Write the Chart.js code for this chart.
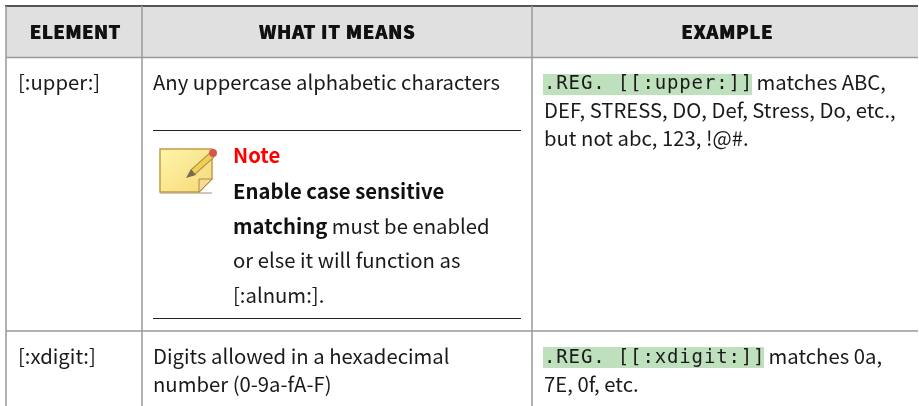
<!DOCTYPE html>
<html>
<head>
<meta charset="utf-8">
<style>
  html, body { margin: 0; padding: 0; background: #fff; }
  canvas { display: block; }
</style>
<script src="https://cdn.jsdelivr.net/npm/chart.js@4"></script>
</head>
<body>
<canvas id="tableChart" width="919" height="406"></canvas>
<script>
// table content
const headers = ["ELEMENT", "WHAT IT MEANS", "EXAMPLE"];
const elements = ["[:upper:]", "[:xdigit:]"];
const meanings = ["Any uppercase alphabetic characters", "Digits allowed in a hexadecimal", "number (0-9a-fA-F)"];
const noteTitle = "Note";
const noteBold = ["Enable case sensitive", "matching"];
const notePlain = [" must be enabled", "or else it will function as", "[:alnum:]."];
const regexes = [".REG. [[:upper:]]", ".REG. [[:xdigit:]]"];
const exampleLines = [" matches ABC,", "DEF, STRESS, DO, Def, Stress, Do, etc.,", "but not abc, 123, !@#.", " matches 0a,", "7E, 0f, etc."];

const SANS = '"Noto Sans CJK SC", "Noto Sans", sans-serif';
const BODY = "20.3px " + SANS;
const BOLD = "bold 20.3px " + SANS;
const CODE = '19px "DejaVu Sans Mono", monospace';
const HEAD = "900 18.5px " + SANS;

const W = 918, H = 406;
const COL = [6, 142, 532];
const BASE = { r1: 90, noteTitle: 163, n1: 199, n2: 234, n3: 268, n4: 303, r2: 364, r2b: 392, ex2: 118, ex3: 146 };

function gapped(segments) {
  const pts = [];
  segments.forEach(s => { pts.push({ x: s[0], y: s[1] }, { x: s[2], y: s[3] }, { x: null, y: null }); });
  return pts;
}

const tablePlugin = {
  id: "tablePlugin",
  beforeDatasetsDraw(chart) {
    const ctx = chart.ctx, sx = chart.scales.x, sy = chart.scales.y;
    const rect = (x0, y0, x1, y1, c) => {
      ctx.fillStyle = c;
      ctx.fillRect(sx.getPixelForValue(x0), sy.getPixelForValue(y0),
        sx.getPixelForValue(x1) - sx.getPixelForValue(x0), sy.getPixelForValue(y1) - sy.getPixelForValue(y0));
    };
    rect(COL[0], 6, W, 57, "#e0e0e0");
    rect(543, 74, 752, 95, "#bfe0bd");
    rect(543, 347, 764, 368, "#bfe0bd");
  },
  afterDatasetsDraw(chart) {
    const ctx = chart.ctx, sx = chart.scales.x, sy = chart.scales.y;
    const text = (s, x, y, font, color, spacing, align) => {
      ctx.font = font;
      ctx.fillStyle = color || "#1a1a1a";
      ctx.letterSpacing = spacing || "0px";
      ctx.textAlign = align || "left";
      ctx.textBaseline = "alphabetic";
      ctx.fillText(s, sx.getPixelForValue(x), sy.getPixelForValue(y));
      return ctx.measureText(s).width;
    };
    ctx.save();
    // header looks heavier than the bold face, a small shadow thickens it
    ctx.shadowColor = "#111";
    ctx.shadowOffsetX = 0.6;
    ctx.shadowBlur = 0;
    text(headers[0], 75, 39, HEAD, "#111", "0.4px", "center");
    text(headers[1], 337, 39, HEAD, "#111", "0.75px", "center");
    text(headers[2], 727, 39, HEAD, "#111", "0.65px", "center");
    ctx.shadowColor = "transparent";
    ctx.shadowOffsetX = 0;

    text(elements[0], 18, BASE.r1, BODY);
    text(meanings[0], 153, BASE.r1, BODY);
    text(noteTitle, 233, BASE.noteTitle, BOLD, "#ff0000");
    text(noteBold[0], 233, BASE.n1, BOLD, "#111");
    const w = text(noteBold[1], 233, BASE.n2, BOLD, "#111");
    text(notePlain[0], 233 + w, BASE.n2, BODY);
    text(notePlain[1], 233, BASE.n3, BODY);
    text(notePlain[2], 233, BASE.n4, BODY);

    text(regexes[0], 544, BASE.r1 - 1, CODE, "#1a1a1a", "0.86px");
    text(exampleLines[0], 752, BASE.r1, BODY);
    text(exampleLines[1], 544, BASE.ex2, BODY);
    text(exampleLines[2], 544, BASE.ex3, BODY);

    text(elements[1], 18, BASE.r2, BODY);
    text(meanings[1], 153, BASE.r2, BODY);
    text(meanings[2], 153, BASE.r2b, BODY);
    text(regexes[1], 544, BASE.r2 - 1, CODE, "#1a1a1a", "0.86px");
    text(exampleLines[3], 764, BASE.r2, BODY);
    text(exampleLines[4], 544, BASE.r2b, BODY);
    ctx.letterSpacing = "0px";

    drawNoteIcon(ctx, sx.getPixelForValue(159), sy.getPixelForValue(148));
    ctx.restore();
  }
};

// sticky note with pencil
function drawNoteIcon(ctx, x, y) {
  ctx.save();
  ctx.translate(x, y);
  ctx.fillStyle = "rgba(120,100,50,0.35)";
  ctx.fillRect(1, 44, 52, 2);
  const g = ctx.createLinearGradient(0, 0, 40, 46);
  g.addColorStop(0, "#fff5ad");
  g.addColorStop(1, "#f6dc7c");
  ctx.fillStyle = g;
  ctx.strokeStyle = "#c49c48";
  ctx.lineWidth = 1.5;
  ctx.beginPath();
  ctx.moveTo(1, 1); ctx.lineTo(53, 1); ctx.lineTo(53, 31);
  ctx.lineTo(40, 44); ctx.lineTo(1, 44); ctx.closePath();
  ctx.fill(); ctx.stroke();
  ctx.fillStyle = "#f2dc97";
  ctx.strokeStyle = "#b08a3c";
  ctx.lineWidth = 1;
  ctx.beginPath();
  ctx.moveTo(53, 31); ctx.lineTo(40, 44); ctx.lineTo(40, 31); ctx.closePath();
  ctx.fill(); ctx.stroke();
  ctx.strokeStyle = "#9a8a60";
  ctx.lineWidth = 7;
  ctx.beginPath(); ctx.moveTo(53, 7); ctx.lineTo(34, 24); ctx.stroke();
  ctx.strokeStyle = "#f3cf4e";
  ctx.lineWidth = 5;
  ctx.beginPath(); ctx.moveTo(53, 7); ctx.lineTo(34, 24); ctx.stroke();
  ctx.fillStyle = "#7a6a50";
  ctx.beginPath(); ctx.moveTo(32, 21); ctx.lineTo(27, 30); ctx.lineTo(37, 27); ctx.closePath(); ctx.fill();
  ctx.fillStyle = "#d9534f";
  ctx.beginPath(); ctx.arc(54, 5, 4, 0, Math.PI * 2); ctx.fill();
  ctx.restore();
}

new Chart(document.getElementById("tableChart"), {
  type: "line",
  data: {
    datasets: [
      {
        label: "grid",
        data: gapped([[6, 57.5, W, 57.5], [6, 331, W, 331], [6, 6, 6, H], [142, 6, 142, H], [532, 6, 532, H]]),
        borderColor: "#999", borderWidth: 1.5, pointRadius: 0, spanGaps: false
      },
      {
        label: "top",
        data: gapped([[5, 6, W, 6]]),
        borderColor: "#555", borderWidth: 2, pointRadius: 0, spanGaps: false
      },
      {
        label: "note",
        data: gapped([[153, 130.5, 521, 130.5], [153, 318.5, 521, 318.5]]),
        borderColor: "#222", borderWidth: 1, pointRadius: 0, spanGaps: false
      }
    ]
  },
  options: {
    responsive: false,
    animation: false,
    layout: { padding: 0 },
    plugins: { legend: { display: false }, tooltip: { enabled: false } },
    scales: {
      x: { type: "linear", min: 0, max: 919, display: false },
      y: { type: "linear", min: 0, max: H, reverse: true, display: false }
    }
  },
  plugins: [tablePlugin]
});
</script>
</body>
</html>
